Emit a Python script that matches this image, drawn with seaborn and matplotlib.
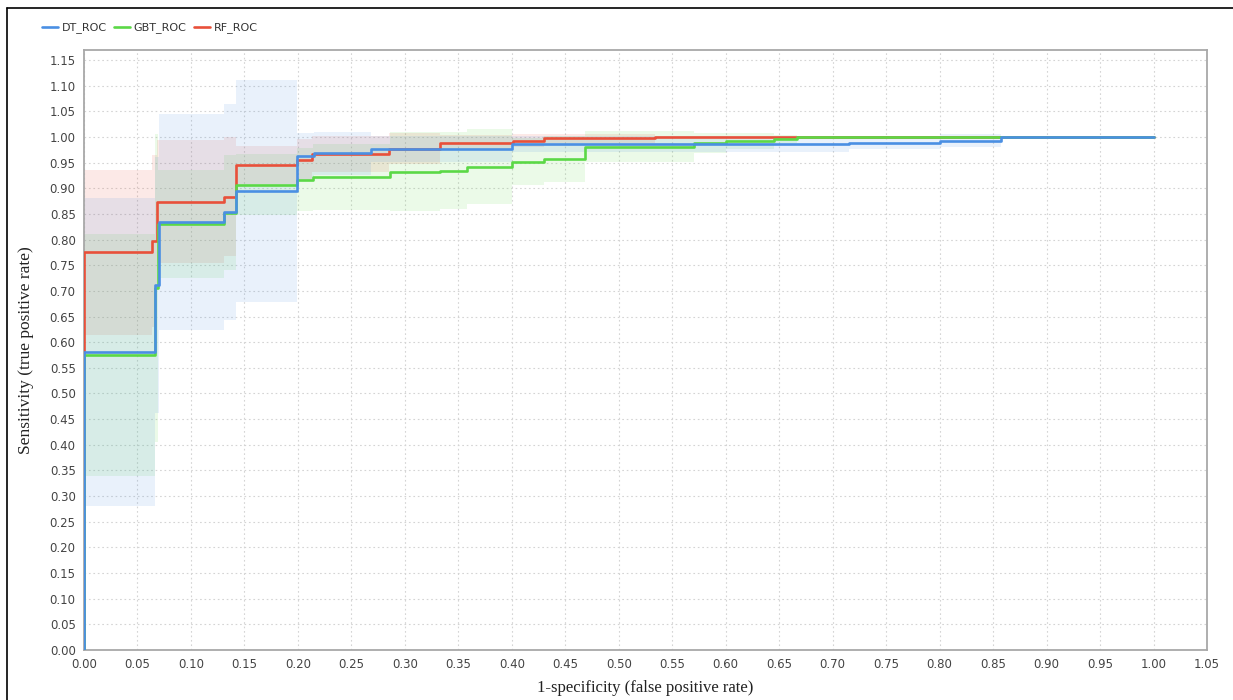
import matplotlib

matplotlib.use("Agg")
import matplotlib.pyplot as plt
from matplotlib.lines import Line2D
import numpy as np
import seaborn as sns

# averaged ROC curves (step values start at each fpr) with std band
dt_fpr = [0.000, 0.066, 0.070, 0.131, 0.142, 0.199, 0.215, 0.268, 0.400, 0.715, 0.800, 0.857, 1.000]
dt_tpr = [0.581, 0.711, 0.834, 0.854, 0.895, 0.962, 0.968, 0.977, 0.986, 0.989, 0.993, 1.000, 1.000]
dt_std = [0.300, 0.250, 0.210, 0.211, 0.216, 0.045, 0.042, 0.025, 0.015, 0.012, 0.012, 0.000, 0.000]

gbt_fpr = [0.000, 0.066, 0.069, 0.131, 0.142, 0.199, 0.214, 0.286, 0.333, 0.358, 0.400, 0.430,
           0.468, 0.570, 0.600, 0.645, 0.667, 1.000]
gbt_tpr = [0.575, 0.705, 0.831, 0.852, 0.907, 0.917, 0.922, 0.932, 0.934, 0.942, 0.952, 0.957,
           0.981, 0.988, 0.992, 0.996, 1.000, 1.000]
gbt_std = [0.235, 0.300, 0.105, 0.112, 0.060, 0.062, 0.064, 0.077, 0.075, 0.073, 0.045, 0.045,
           0.030, 0.020, 0.015, 0.008, 0.000, 0.000]

rf_fpr = [0.000, 0.064, 0.068, 0.131, 0.142, 0.199, 0.213, 0.285, 0.333, 0.401, 0.430, 0.534, 0.667, 1.000]
rf_tpr = [0.775, 0.797, 0.874, 0.883, 0.945, 0.956, 0.966, 0.977, 0.989, 0.993, 0.997, 1.000, 1.000, 1.000]
rf_std = [0.161, 0.167, 0.120, 0.116, 0.037, 0.040, 0.035, 0.030, 0.015, 0.012, 0.008, 0.000, 0.000, 0.000]

labels = ["DT_ROC", "GBT_ROC", "RF_ROC"]
colors = {"DT_ROC": "#4a8fe3", "GBT_ROC": "#5bd846", "RF_ROC": "#e8503a"}
curves = {
    "DT_ROC": (dt_fpr, dt_tpr, dt_std),
    "GBT_ROC": (gbt_fpr, gbt_tpr, gbt_std),
    "RF_ROC": (rf_fpr, rf_tpr, rf_std),
}

sns.set_style("white")
plt.rcParams["font.family"] = ["DejaVu Sans"]

fig = plt.figure(figsize=(12.33, 7.0), dpi=100)
ax = fig.add_axes([84 / 1233, 50 / 700, 1123 / 1233, 600 / 700])

# bands first, then lines (RF at the bottom, DT on top)
for name in ["RF_ROC", "GBT_ROC", "DT_ROC"]:
    fpr, tpr, std = curves[name]
    fpr = np.array(fpr)
    tpr = np.array(tpr)
    std = np.array(std)
    ax.fill_between(fpr, tpr - std, tpr + std, step="post",
                    color=colors[name], alpha=0.12, lw=0, zorder=1)

for name in ["RF_ROC", "GBT_ROC", "DT_ROC"]:
    fpr, tpr, std = curves[name]
    xs = [0.0] + list(fpr)
    ys = [0.0] + list(tpr)
    sns.lineplot(x=xs, y=ys, estimator=None, sort=False, drawstyle="steps-post",
                 color=colors[name], lw=1.9, ax=ax, legend=False, zorder=3)

ax.set_xlim(0, 1.05)
ax.set_ylim(0, 1.1695)
ax.set_xticks(np.arange(0, 1.051, 0.05))
ax.set_yticks(np.arange(0, 1.151, 0.05))
ax.xaxis.set_major_formatter(matplotlib.ticker.FormatStrFormatter("%.2f"))
ax.yaxis.set_major_formatter(matplotlib.ticker.FormatStrFormatter("%.2f"))
ax.grid(True, color="#d4d4d4", linestyle=(0, (1.5, 2.5)), linewidth=0.8)
ax.set_axisbelow(True)
ax.tick_params(direction="out", length=3, width=0.8, color="#999999",
               labelcolor="#444444", labelsize=8.5, pad=3)
for sp in ax.spines.values():
    sp.set_color("#a8a8a8")
    sp.set_linewidth(1.3)

ax.set_xlabel("1-specificity (false positive rate)", family="Liberation Serif",
              fontsize=12, color="#222222", labelpad=6)
ax.set_ylabel("Sensitivity (true positive rate)", family="Liberation Serif",
              fontsize=12.5, color="#222222", labelpad=11)

handles = [Line2D([0], [0], color=colors[n], lw=1.9) for n in labels]
fig.legend(handles, labels, loc="center left", bbox_to_anchor=(32 / 1233, 1 - 28 / 700),
           ncol=3, frameon=False, fontsize=8, handlelength=1.4, handletextpad=0.35,
           columnspacing=0.7, labelcolor="#333333")

# outer frame lines of the original screenshot
fig.add_artist(Line2D([7 / 1233, 1], [1 - 8 / 700, 1 - 8 / 700], transform=fig.transFigure,
                      color="black", lw=1.2))
fig.add_artist(Line2D([7 / 1233, 7 / 1233], [0, 1 - 8 / 700], transform=fig.transFigure,
                      color="black", lw=1.2))

fig.savefig("out.png", dpi=100, facecolor="white")
